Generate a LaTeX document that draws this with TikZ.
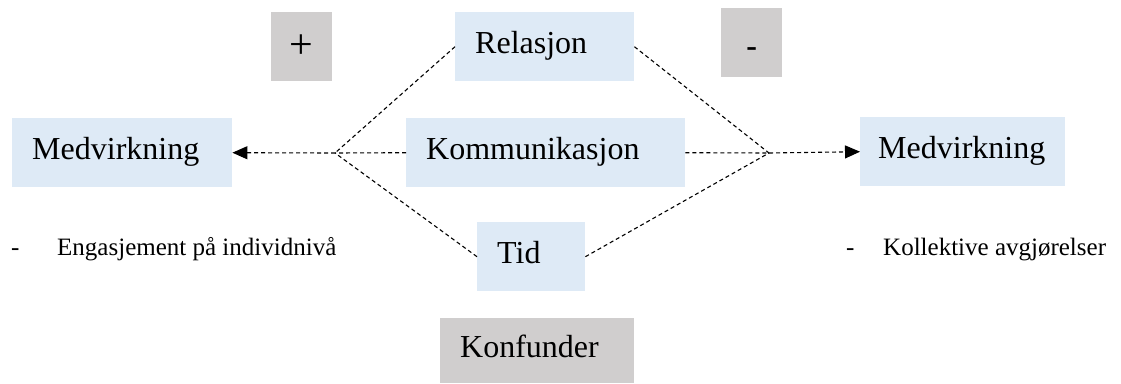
\documentclass[tikz,border=0pt]{standalone}
\usepackage{fontspec}
\setmainfont{Liberation Serif}
\usetikzlibrary{arrows.meta}
\definecolor{lysblaa}{HTML}{DEEAF6}
\definecolor{graa}{HTML}{D0CECE}

\begin{document}
\begin{tikzpicture}[x=1pt,y=-1pt,>={Triangle[length=15pt,width=13pt]}]
 \tikzstyle{blokk} = [fill=lysblaa,anchor=north west,inner xsep=20pt,inner ysep=0pt,align=left,minimum height=69pt,text height=21pt,text depth=7pt,font=\fontsize{32}{38}\selectfont]
 \tikzstyle{tegn} = [fill=graa,anchor=north west,inner sep=0pt,minimum width=61pt,minimum height=69pt,font=\fontsize{32}{38}\selectfont]
 \tikzstyle{lenke} = [dash pattern=on 4pt off 3pt,line width=1.1pt]
 \tikzstyle{punkt} = [anchor=base west,inner sep=0pt,font=\fontsize{25}{30}\selectfont]
 \useasboundingbox (0,0) rectangle (1121,383);

 \node[blokk,text width=139pt] (rel) at (455,12) {Relasjon};
 \node[blokk,text width=239pt] (komm) at (406,118) {Kommunikasjon};
 \node[blokk,text width=68pt] (tid) at (477,222) {Tid};
 \node[blokk,text width=180pt] (medL) at (12,118) {Medvirkning};
 \node[blokk,inner xsep=18pt,text width=169pt] (medR) at (860,117) {Medvirkning};
 \node[blokk,fill=graa,text width=154pt,minimum height=65pt] (konf) at (440,318) {Konfunder};

 \node[tegn,font=\fontsize{42}{50}\selectfont] (pluss) at (271,12) {+};
 \node[tegn,text height=28pt,text depth=0pt] (minus) at (721,8) {\textbf{-}};

 \coordinate (hubL) at (335,153);
 \coordinate (hubR) at (769,153);
 \draw[lenke] (rel.west) -- (hubL);
 \draw[lenke] (komm.west) -- (hubL);
 \draw[lenke] (tid.west) -- (hubL);
 \draw[lenke,->] (hubL) -- (medL.east);
 \draw[lenke] (rel.east) -- (hubR);
 \draw[lenke] (komm.east) -- (hubR);
 \draw[lenke] (tid.east) -- (hubR);
 \draw[lenke,->] (hubR) -- (medR.west);

 \node[punkt] (strekL) at (11,255) {-};
 \node[punkt] (tekstL) at (57,255) {Engasjement på individnivå};
 \node[punkt] (strekR) at (846,255) {-};
 \node[punkt] (tekstR) at (883,255) {Kollektive avgjørelser};
\end{tikzpicture}
\end{document}
